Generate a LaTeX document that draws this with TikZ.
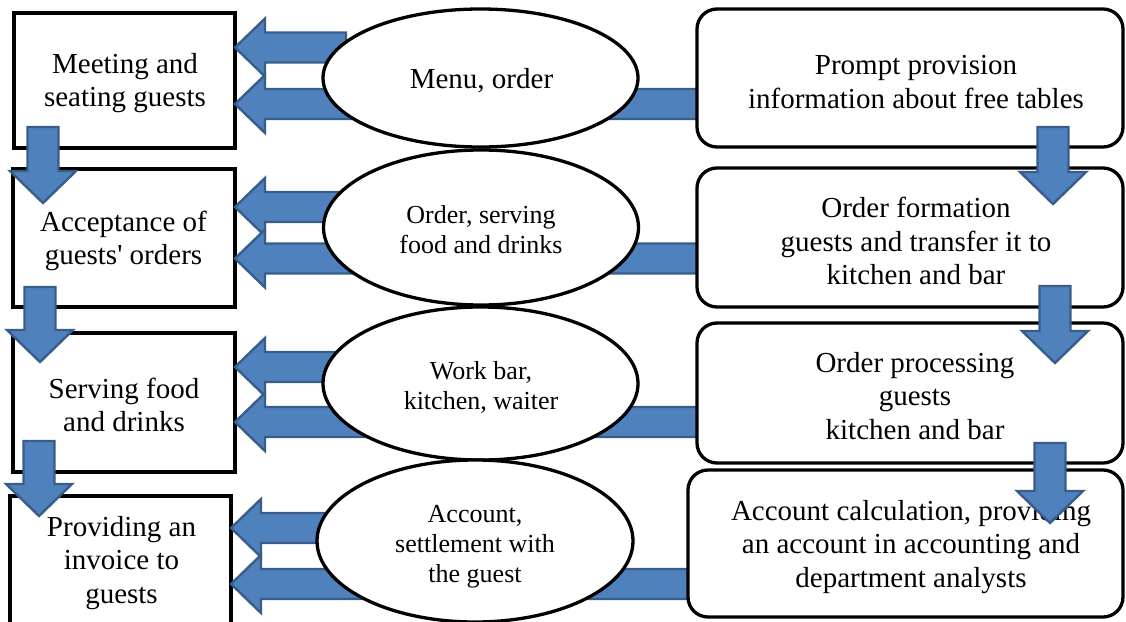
\documentclass[tikz,border=0pt]{standalone}
\usepackage{fontspec}
\setmainfont{Liberation Serif}
\usetikzlibrary{shapes.geometric,calc}

\definecolor{arrowfill}{HTML}{4F81BD}
\definecolor{arrowline}{HTML}{385D8A}

\pgfdeclarelayer{bottom}
\pgfdeclarelayer{arrows}
\pgfsetlayers{bottom,arrows,main}

\tikzset{
  stagebox/.style={draw=black, line width=3.3pt, fill=white, rectangle,
    inner sep=0pt, outer sep=0pt},
  taskbox/.style={stagebox, rounded corners=20pt},
  flowoval/.style={draw=black, line width=3.3pt, fill=white, ellipse,
    inner sep=0pt, outer sep=0pt},
  blockarrow/.style={fill=arrowfill, draw=arrowline, line width=2.4pt,
    line join=miter},
  boxtext/.style={align=center, font=\fontsize{29}{33.5}\selectfont, inner sep=0pt},
  ovaltext/.style={align=center, font=\fontsize{26}{30}\selectfont, inner sep=0pt},
}

% wide arrow pointing left: #1 tail, #2 tip (same height)
\newcommand\leftblock[2]{%
  \path[blockarrow] let \p1=#1, \p2=#2 in
    (\x1,\y1+15pt) -- (\x2+30pt,\y1+15pt) -- (\x2+30pt,\y1+29pt) -- (\x2,\y1)
    -- (\x2+30pt,\y1-29pt) -- (\x2+30pt,\y1-15pt) -- (\x1,\y1-15pt) -- cycle;}

% wide arrow pointing down: #1 tail, #2 tip (same column)
\newcommand\downblock[2]{%
  \path[blockarrow] let \p1=#1, \p2=#2 in
    (\x1-15.5pt,\y1) -- (\x1-15.5pt,\y2+32pt) -- (\x1-33pt,\y2+32pt) -- (\x1,\y2)
    -- (\x1+33pt,\y2+32pt) -- (\x1+15.5pt,\y2+32pt) -- (\x1+15.5pt,\y1) -- cycle;}

\begin{document}
\begin{tikzpicture}[x=1pt,y=-1pt]
\useasboundingbox (0,0) rectangle (1126,621);

% stages of service, left column
\begin{pgfonlayer}{bottom}
  \node[stagebox, minimum width=221pt, minimum height=135pt] (b1) at (124.5,80.5) {};
  \node[stagebox, minimum width=222pt, minimum height=138pt] (b2) at (124,238) {};
  \node[stagebox, minimum width=222pt, minimum height=139pt] (b3) at (124,402.5) {};
  \node[stagebox, minimum width=221pt, minimum height=144pt] (b4) at (120.5,568) {};
\end{pgfonlayer}

% information flows, middle column
\node[flowoval, minimum width=315pt, minimum height=138pt] (e1) at (480.5,78) {};
\node[flowoval, minimum width=315pt, minimum height=155pt] (e2) at (481,227.5) {};
\node[flowoval, minimum width=315pt, minimum height=153pt] (e3) at (480.5,383.5) {};
\node[flowoval, minimum width=316pt, minimum height=162pt] (e4) at (475,541) {};

% supporting tasks, right column
\node[taskbox, minimum width=426pt, minimum height=138pt] (r1) at (910,78) {};
\node[taskbox, minimum width=426pt, minimum height=139pt] (r2) at (910,237.5) {};
\node[taskbox, minimum width=426pt, minimum height=140pt] (r3) at (910,393) {};
\node[taskbox, minimum width=435pt, minimum height=147pt] (r4) at (905.5,543.5) {};

% texts
\node[boxtext] (tb1) at (125,83) {Meeting and\\seating guests};
\node[boxtext] (tb2) at (123.5,241) {Acceptance of\\guests\textquotesingle{} orders};
\node[boxtext] (tb3) at (124,405) {Serving food\\and drinks};
\node[boxtext] (tb4) at (121.5,563) {Providing an\\invoice to\\guests};

\node[boxtext] (te1) at (481.5,81) {Menu, order};
\node[ovaltext] (te2) at (481,230) {Order, serving\\food and drinks};
\node[ovaltext] (te3) at (481,387) {Work bar,\\kitchen, waiter};
\node[ovaltext] (te4) at (475,547) {Account,\\settlement with\\the guest};

\node[boxtext] (tr1) at (916,82) {Prompt provision\\information about free tables};
\node[boxtext] (tr2) at (916,241) {Order formation\\guests and transfer it to\\kitchen and bar};
\node[boxtext] (tr3) at (915,396) {Order processing\\guests\\kitchen and bar};
\node[boxtext] (tr4) at (911,547) {Account calculation, providing\\an account in accounting and\\department analysts};

% arrow anchor points
\coordinate (u1) at (346,47.5);
\coordinate (u2) at (350,207);
\coordinate (u3) at (352,367);
\coordinate (u4) at (350,528);
\coordinate (l1) at (600,104);
\coordinate (l2) at (600,258.5);
\coordinate (l3) at (600,422);
\coordinate (l4) at (600,584);

% flows from the middle to the stages
\begin{pgfonlayer}{arrows}
  \leftblock{(u1)}{(b1.east |- u1)}
  \leftblock{(r1.west |- l1)}{(b1.east |- l1)}
  \leftblock{(u2)}{(b2.east |- u2)}
  \leftblock{(r2.west |- l2)}{(b2.east |- l2)}
  \leftblock{(u3)}{(b3.east |- u3)}
  \leftblock{(r3.west |- l3)}{(b3.east |- l3)}
  \leftblock{(u4)}{(b4.east |- u4)}
  \leftblock{(r4.west |- l4)}{(b4.east |- l4)}
\end{pgfonlayer}

% sequence of stages, left column
\coordinate (sa1) at (43,127);   \coordinate (sa2) at (43,203);
\coordinate (sb1) at (40,287);   \coordinate (sb2) at (40,362);
\coordinate (sc1) at (39,441);   \coordinate (sc2) at (39,516);
\downblock{(sa1)}{(sa2)}
\downblock{(sb1)}{(sb2)}
\downblock{(sc1)}{(sc2)}

% sequence of tasks, right column
\coordinate (ta1) at (1053,127); \coordinate (ta2) at (1053,204);
\coordinate (tb1c) at (1055,286); \coordinate (tb2c) at (1055,363);
\coordinate (tc1) at (1050,443); \coordinate (tc2) at (1050,523);
\downblock{(ta1)}{(ta2)}
\downblock{(tb1c)}{(tb2c)}
\downblock{(tc1)}{(tc2)}
\end{tikzpicture}
\end{document}
